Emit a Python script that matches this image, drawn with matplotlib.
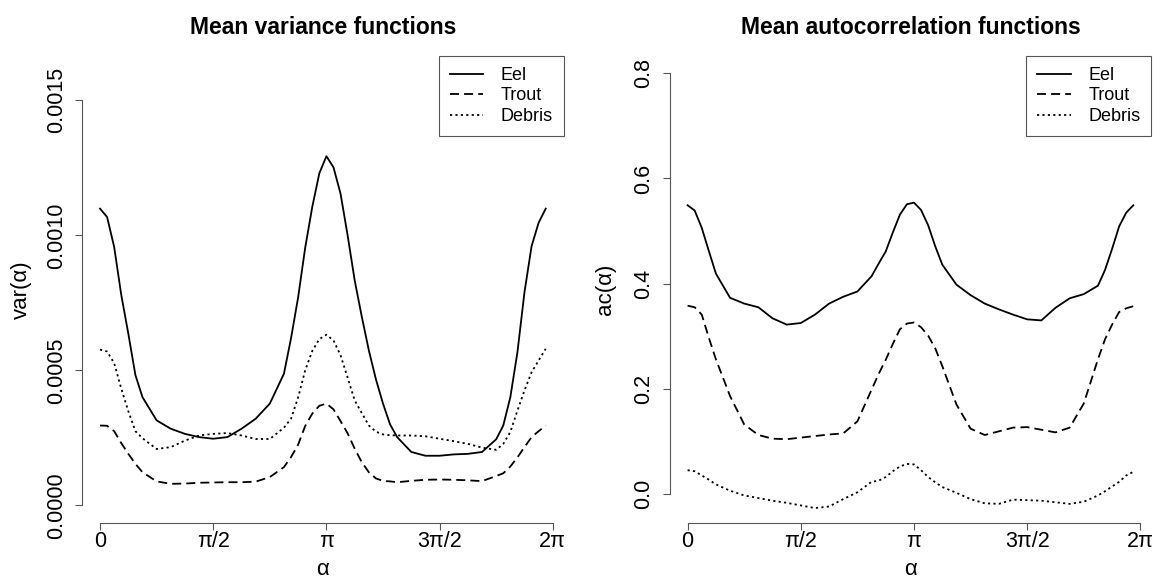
import numpy as np
import matplotlib
matplotlib.use("Agg")
import matplotlib.pyplot as plt

plt.rcParams["font.family"] = ["Liberation Sans", "DejaVu Sans"]

# sample index along the circle, in 64ths of a full turn
idx_left = [0, 1, 2, 3, 4, 5, 6, 8, 10, 12, 14, 16, 18, 20, 22, 24,
            26, 27, 28, 29, 30, 31, 32, 33, 34, 35, 36, 37, 38, 39, 40, 41, 42,
            44, 46, 48, 50, 52, 54, 56, 57, 58, 59, 60, 61, 62, 63]
idx_right = [0, 1, 2, 3, 4, 6, 8, 10, 12, 14, 16, 18, 20, 22, 24, 26,
             27, 28, 29, 30, 31, 32, 33, 34, 35, 36,
             38, 40, 42, 44, 46, 48, 50, 52, 54, 56, 58, 59, 60, 61, 62, 63]

# mean variance functions (units of 1e-4)
var_eel = [10.99, 10.68, 9.57, 7.80, 6.36, 4.83, 4.01,
           3.15, 2.84, 2.65, 2.53, 2.47, 2.53, 2.84, 3.21, 3.77,
           4.88, 6.19, 7.70, 9.54, 11.05, 12.30, 12.93, 12.52, 11.54, 10.00,
           8.33, 6.99, 5.74, 4.67, 3.77, 3.00, 2.53,
           1.98, 1.84, 1.84, 1.89, 1.91, 1.98, 2.45,
           2.96, 4.01, 5.67, 7.90, 9.60, 10.47, 10.99]
var_trout = [2.96, 2.95, 2.75, 2.31, 1.91, 1.54, 1.23,
             0.89, 0.80, 0.81, 0.84, 0.85, 0.86, 0.86, 0.88, 1.05,
             1.42, 1.79, 2.25, 2.94, 3.40, 3.69, 3.77, 3.56, 3.12, 2.67,
             2.10, 1.60, 1.23, 1.00, 0.91, 0.89, 0.86,
             0.91, 0.95, 0.96, 0.95, 0.93, 0.90, 1.09,
             1.19, 1.44, 1.78, 2.16, 2.53, 2.75, 2.96]
var_debris = [5.77, 5.70, 5.27, 4.33, 3.49, 2.75, 2.49,
              2.09, 2.16, 2.40, 2.59, 2.65, 2.68, 2.59, 2.46, 2.46,
              2.88, 3.21, 4.00, 5.00, 5.72, 6.16, 6.32, 6.11, 5.56, 4.73,
              3.89, 3.42, 2.96, 2.73, 2.63, 2.60, 2.59,
              2.59, 2.56, 2.47, 2.38, 2.28, 2.14, 2.06,
              2.28, 2.72, 3.51, 4.26, 4.93, 5.37, 5.80]

# mean autocorrelation functions
ac_eel = [0.549, 0.539, 0.506, 0.462, 0.419,
          0.373, 0.362, 0.355, 0.334, 0.322, 0.325, 0.341, 0.362, 0.375, 0.385, 0.414,
          0.438, 0.461, 0.497, 0.531, 0.551, 0.554, 0.540, 0.511, 0.471, 0.436,
          0.398, 0.378, 0.362, 0.351, 0.341, 0.332, 0.330, 0.354, 0.372, 0.380, 0.396,
          0.426, 0.466, 0.509, 0.535, 0.549]
ac_trout = [0.358, 0.355, 0.341, 0.297, 0.256,
            0.186, 0.132, 0.112, 0.105, 0.104, 0.107, 0.110, 0.113, 0.115, 0.138, 0.198,
            0.228, 0.255, 0.285, 0.313, 0.324, 0.326, 0.317, 0.301, 0.277, 0.243,
            0.170, 0.124, 0.112, 0.119, 0.126, 0.127, 0.122, 0.117, 0.126, 0.172, 0.256,
            0.294, 0.322, 0.346, 0.353, 0.357]
ac_debris = [0.045, 0.043, 0.035, 0.027, 0.018,
             0.006, -0.003, -0.008, -0.013, -0.017, -0.022, -0.027, -0.024, -0.010, 0.003, 0.023,
             0.025, 0.032, 0.043, 0.052, 0.057, 0.056, 0.045, 0.032, 0.022, 0.013,
             0.002, -0.010, -0.018, -0.019, -0.011, -0.012, -0.013, -0.016, -0.019, -0.015, -0.003,
             0.005, 0.014, 0.023, 0.035, 0.042]

series_names = ["Eel", "Trout", "Debris"]
x_tick_vals = [0, np.pi / 2, np.pi, 3 * np.pi / 2, 2 * np.pi]
x_tick_labels = ["0", "π/2", "π", "3π/2", "2π"]
var_ticks = [0.0, 0.0005, 0.0010, 0.0015]
ac_ticks = [0.0, 0.2, 0.4, 0.6, 0.8]

line_styles = ["-", (0, (5, 2.8)), (0, (1.2, 1.8))]
AX_COL = "#555555"


def r_range(lo, hi):
    # R style 4% axis extension
    d = 0.04 * (hi - lo)
    return lo - d, hi + d


def draw_panel(ax, alpha, series, ylim, yticks, yfmt, ylabel, title, ylab_x):
    for vals, name, ls in zip(series, series_names, line_styles):
        ax.plot(alpha, vals, color="black", lw=1.3, ls=ls, label=name,
                solid_joinstyle="round")

    ax.set_xlim(*r_range(0, alpha.max()))
    ax.set_ylim(*ylim)
    for s in ["top", "right"]:
        ax.spines[s].set_visible(False)
    for s in ["left", "bottom"]:
        ax.spines[s].set_color(AX_COL)
        ax.spines[s].set_linewidth(0.8)
    ax.spines["left"].set_bounds(yticks[0], yticks[-1])
    ax.spines["bottom"].set_bounds(x_tick_vals[0], x_tick_vals[-1])

    ax.set_xticks(x_tick_vals)
    ax.set_xticklabels(x_tick_labels)
    ax.set_yticks(yticks)
    ax.set_yticklabels([yfmt % v for v in yticks], rotation=90, va="center")
    ax.tick_params(axis="both", direction="out", length=5, width=0.8,
                   color=AX_COL, labelsize=15.5)
    ax.tick_params(axis="x", pad=1)
    ax.tick_params(axis="y", pad=6)

    ax.set_ylabel(ylabel, fontsize=16)
    ax.yaxis.set_label_coords(ylab_x, 0.5)
    ax.set_xlabel("α", fontsize=16)
    ax.xaxis.set_label_coords(0.5, -0.10)
    ax.xaxis.label.set_va("center")
    ax.yaxis.label.set_va("center")

    ax.text(0.5, 1.062, title, transform=ax.transAxes, ha="center",
            va="center", fontsize=16.5, fontweight="bold")

    leg = ax.legend(loc="upper right", bbox_to_anchor=(1.0, 1.0),
                    borderaxespad=0, fontsize=13, fancybox=False,
                    edgecolor=AX_COL, framealpha=1, handlelength=1.87,
                    handletextpad=0.95, borderpad=0.6, labelspacing=0.2)
    leg.get_frame().set_linewidth(0.8)


alpha_left = np.array(idx_left) * 2 * np.pi / 64
alpha_right = np.array(idx_right) * 2 * np.pi / 64

fig = plt.figure(figsize=(11.56, 5.79), dpi=100)
ax1 = fig.add_axes([0.0711, 0.0972, 0.4164, 0.8060])
ax2 = fig.add_axes([0.5794, 0.0972, 0.4164, 0.8060])

draw_panel(ax1, alpha_left,
           [np.array(var_eel) * 1e-4, np.array(var_trout) * 1e-4,
            np.array(var_debris) * 1e-4],
           r_range(0, 0.0016), var_ticks, "%.4f", "var(α)",
           "Mean variance functions", -0.126)
draw_panel(ax2, alpha_right, [ac_eel, ac_trout, ac_debris],
           r_range(-0.022, 0.8), ac_ticks, "%.1f", "ac(α)",
           "Mean autocorrelation functions", -0.134)

fig.savefig("out.png", dpi=100)
